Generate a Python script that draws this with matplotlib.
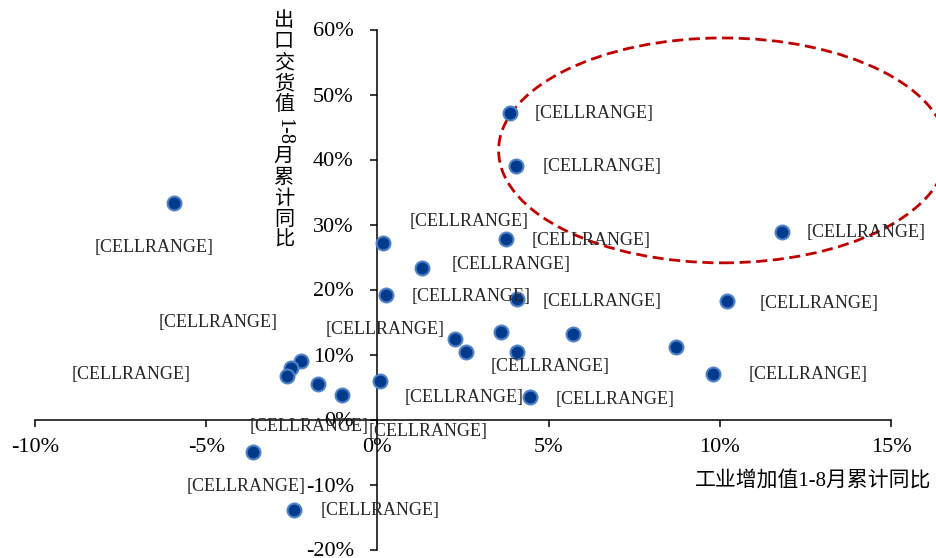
import matplotlib
matplotlib.use("Agg")
import matplotlib.pyplot as plt
from matplotlib.patches import Ellipse
from matplotlib.ticker import PercentFormatter

plt.rcParams['font.family'] = ['Liberation Serif', 'Noto Sans CJK SC']
plt.rcParams['axes.unicode_minus'] = False

# industrial value added, Jan-Aug cumulative yoy (%)
ind_growth = [3.86, 4.06, -5.94, 0.15, 3.77, 11.81, 1.29, 0.26, 4.09, 10.2,
              3.6, 5.7, 2.28, 2.6, 4.09, 8.71, 9.8, -2.22, -2.51, -2.63,
              -1.73, -1.02, 0.09, 4.47, -3.63, -2.43]
# export delivery value, Jan-Aug cumulative yoy (%)
export_growth = [47.15, 39.0, 33.3, 27.15, 27.8, 28.85, 23.3, 19.15, 18.5, 18.2,
                 13.5, 13.15, 12.4, 10.4, 10.4, 11.15, 7.0, 9.0, 7.9, 6.7,
                 5.45, 3.77, 5.9, 3.46, -5.0, -13.9]
point_labels = ["[CELLRANGE]"] * len(ind_growth)
x_ticks = [-10, -5, 0, 5, 10, 15]
y_ticks = [-20, -10, 0, 10, 20, 30, 40, 50, 60]
x_title = "工业增加值1-8月累计同比"
y_title = ["出", "口", "交", "货", "值", "1-8", "月", "累", "计", "同", "比"]

# label offsets in pixels (None = label not shown)
label_offsets = [(85, 0), (86, -1), (-20, -44), (87, 22), (85, -2), (84, -1),
                 (90, 4), (85, -1), (85, -2), (92, -2), None, None, (-70, 9),
                 None, (33, -15), None, (95, -1), (-83, 39), None, (-156, 1),
                 (-9, -42), (122, -3), (48, -50), (85, -2), (-7, -35), (86, -1)]

W, H = 937, 558
fig = plt.figure(figsize=(W / 100, H / 100), dpi=100)
ax = fig.add_axes([35 / W, 1 - 549.5 / H, 856 / W, 520 / H])

ax.plot(ind_growth, export_growth, 'o', ms=10, mfc='#003A8C', mec='#4F81C7',
        mew=1.5, zorder=3, clip_on=False)

for x, y, lab, off in zip(ind_growth, export_growth, point_labels, label_offsets):
    if off is None:
        continue
    ax.annotate(lab, xy=(x, y), xytext=off, textcoords='offset pixels',
                ha='center', va='center', fontsize=13, color='#262626',
                annotation_clip=False, zorder=4)

ax.set_xlim(-10, 15)
ax.set_ylim(-20, 60)
ax.set_xticks(x_ticks)
ax.set_yticks(y_ticks)
ax.xaxis.set_major_formatter(PercentFormatter(100, decimals=0))
ax.yaxis.set_major_formatter(PercentFormatter(100, decimals=0))

ax.spines['left'].set_position(('data', 0))
ax.spines['bottom'].set_position(('data', 0))
ax.spines['right'].set_visible(False)
ax.spines['top'].set_visible(False)
for s in ('left', 'bottom'):
    ax.spines[s].set_linewidth(1.1)
ax.tick_params(axis='both', direction='out', length=5, width=1.1, labelsize=16)
ax.tick_params(axis='x', pad=8)
ax.tick_params(axis='y', pad=12)

# red dashed circle around the export-driven group
ax.add_patch(Ellipse((10.09, 41.4), 13.1, 34.6, fill=False, ec='#C00000',
                     lw=2, ls=(0, (4, 2)), clip_on=False, zorder=2))

fig.text(813 / W, 1 - 481 / H, x_title, ha='center', va='center', fontsize=15)

pos = 11
for part in y_title:
    h = 21 if len(part) == 1 else 31
    fig.text(284 / W, 1 - (pos + h / 2) / H, part, ha='center', va='center',
             fontsize=14.5, rotation=0 if len(part) == 1 else 270)
    pos += h

fig.savefig("out.png", dpi=100)
